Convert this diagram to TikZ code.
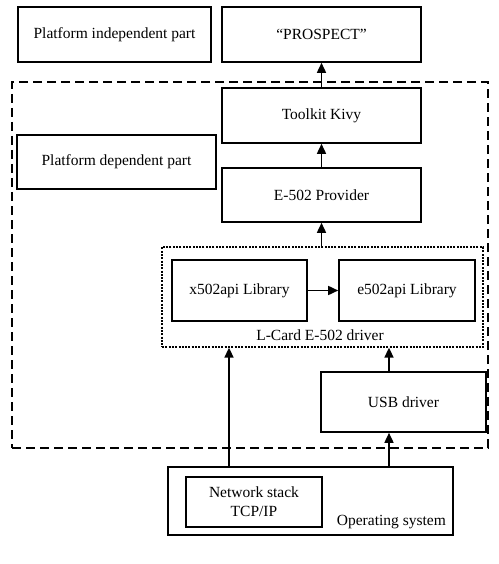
\documentclass[tikz,border=0pt]{standalone}
\usepackage{fontspec}
\setmainfont{Liberation Serif}
\usetikzlibrary{arrows.meta}
\begin{document}
\begin{tikzpicture}[x=1pt,y=-1pt,
  box/.style={draw, line width=1.6pt, inner sep=0pt, font=\fontsize{15.5}{19}\selectfont, align=center},
  arr/.style={line width=1.6pt, -{Triangle[length=10pt,width=9pt]}},
  outer/.style={draw, line width=1.6pt, dash pattern=on 9pt off 5pt},
  dotbox/.style={draw, line width=1.3pt, dash pattern=on 2pt off 1.3pt, inner sep=0pt},
  lbl/.style={font=\fontsize{15.5}{19}\selectfont, inner sep=0pt}]
\useasboundingbox (0,0) rectangle (498,564);
% outer dashed region
\node[outer, minimum width=476pt, minimum height=366pt] (plat) at (250,265) {};
% boxes
\node[box, minimum width=193pt, minimum height=55pt] (indep) at (114.5,34.5) {Platform independent part};
\node[box, minimum width=199pt, minimum height=55pt] (prospect) at (321.5,34.5) {“PROSPECT”};
\node[box, minimum width=199pt, minimum height=55pt] (kivy) at (321.5,115.5) {Toolkit Kivy};
\node[box, minimum width=199pt, minimum height=54pt] (dep) at (116.5,162) {Platform dependent part};
\node[box, minimum width=199pt, minimum height=54pt] (prov) at (321.5,195) {E-502 Provider};
\node[dotbox, minimum width=321pt, minimum height=100pt] (drv) at (322.5,297) {};
\node[box, minimum width=135pt, minimum height=61pt] (x502) at (239.5,290.5) {x502api Library};
\node[box, minimum width=136pt, minimum height=61pt] (e502) at (407,290.5) {e502api Library};
\node[lbl] (drvlbl) at (320,335) {L-Card E-502 driver};
\node[box, minimum width=165pt, minimum height=60pt] (usb) at (403.5,402) {USB driver};
\node[box, minimum width=285pt, minimum height=68pt] (os) at (310.5,501) {};
\node[box, minimum width=136pt, minimum height=50pt] (net) at (254,502) {Network stack\\TCP/IP};
\node[lbl, anchor=south east] (oslbl) at (446,529) {Operating system};
% connectors
\coordinate (nx) at (229,0);
\coordinate (ux) at (389,0);
\draw[arr] (kivy.north) -- (prospect.south);
\draw[arr] (prov.north) -- (kivy.south);
\draw[arr] (drv.north -| prov.south) -- (prov.south);
\draw[arr] (x502.east) -- (e502.west);
\draw[arr] (os.north -| nx) -- (drv.south -| nx);
\draw[arr] (os.north -| ux) -- (usb.south -| ux);
\draw[arr] (usb.north -| ux) -- (drv.south -| ux);
\end{tikzpicture}
\end{document}
